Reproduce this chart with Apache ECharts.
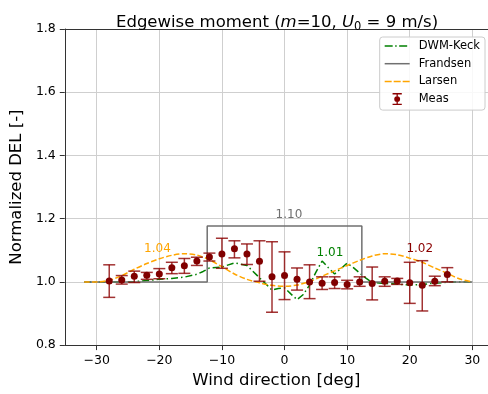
<!DOCTYPE html>
<html lang="en">
<head>
<meta charset="UTF-8">
<title>Edgewise moment</title>
<script src="https://cdn.jsdelivr.net/npm/echarts@6/dist/echarts.min.js"></script>
<style>
    html, body { margin: 0; padding: 0; background: #fff; }
    #main { width: 488px; height: 394px; }
</style>
</head>
<body>
<div id="main"></div>
<script>
    // measured DEL with error bars
    var measX  = [-28, -26, -24, -22, -20, -18, -16, -14, -12, -10, -8, -6, -4, -2, 0, 2, 4, 6, 8, 10, 12, 14, 16, 18, 20, 22, 24, 26];
    var measY  = [1.003, 1.006, 1.018, 1.021, 1.025, 1.045, 1.051, 1.066, 1.079, 1.088, 1.105, 1.088, 1.065, 1.016, 1.020, 1.008, 1.000, 0.996, 0.998, 0.992, 1.000, 0.995, 1.002, 1.003, 0.997, 0.989, 1.002, 1.023];
    var measLo = [0.951, 0.993, 0.998, 1.008, 1.010, 1.026, 1.027, 1.052, 1.066, 1.043, 1.076, 1.055, 1.002, 0.904, 0.944, 0.974, 0.947, 0.976, 0.979, 0.978, 0.986, 0.943, 0.986, 0.992, 0.932, 0.908, 0.988, 1.000];
    var measHi = [1.054, 1.020, 1.034, 1.030, 1.042, 1.062, 1.074, 1.078, 1.091, 1.138, 1.130, 1.120, 1.130, 1.127, 1.095, 1.044, 1.054, 1.016, 1.016, 1.005, 1.016, 1.047, 1.016, 1.011, 1.062, 1.067, 1.018, 1.045];

    var dwmX = [-32, -26, -24, -22, -20, -18, -16, -14, -13, -12, -10, -8, -6, -4, -2, -1, 0, 1, 2, 3, 4, 5, 6, 7, 8, 9, 10, 11, 12, 13, 14, 16, 18, 20, 22, 24, 26, 28, 30];
    var dwmY = [1.0, 1.0, 1.001, 1.004, 1.008, 1.011, 1.015, 1.024, 1.033, 1.044, 1.047, 1.060, 1.052, 1.013, 0.974, 0.979, 0.981, 0.962, 0.944, 0.960, 0.990, 1.030, 1.066, 1.045, 1.025, 1.042, 1.059, 1.045, 1.028, 1.012, 0.998, 0.995, 0.993, 0.990, 0.992, 0.996, 0.999, 1.0, 1.0];

    var frandsenX = [-32, -12.35, -12.35, 12.35, 12.35, 30];
    var frandsenY = [1.0, 1.0, 1.177, 1.177, 1.0, 1.0];

    var larsenX = [-32, -30, -28, -26, -24, -22, -20, -18, -16, -14, -12, -10, -8, -6, -4, -2, 0, 2, 4, 6, 8, 10, 12, 14, 16, 18, 20, 22, 24, 26, 28, 30];
    var larsenY = [1.0, 1.0, 1.005, 1.020, 1.040, 1.058, 1.073, 1.084, 1.089, 1.085, 1.070, 1.048, 1.025, 1.008, 0.997, 0.989, 0.986, 0.990, 1.001, 1.018, 1.035, 1.052, 1.068, 1.082, 1.089, 1.086, 1.075, 1.062, 1.044, 1.027, 1.009, 1.0];

    var xTicks = [-30, -20, -10, 0, 10, 20, 30];

    // value notes written on the plot
    var noteX = [-20.3, 0.7, 7.25, 21.6];
    var noteY = [1.103, 1.212, 1.091, 1.103];
    var noteText = ['1.04', '1.10', '1.01', '1.02'];
    var noteColor = ['#ffa500', '#707070', '#008000', '#8b0000'];

    function zip(xs, ys) {
        return xs.map(function (x, i) { return [x, ys[i]]; });
    }

    // legend glyphs (25 x 1.5 strokes, I-beam for the measurements)
    var iconDashDot = 'path://M0,0H8V1.5H0Z M10.5,0H12V1.5H10.5Z M14.5,0H22.5V1.5H14.5Z M25,0H25V1.5H25Z';
    var iconSolid = 'path://M0,0H25V1.5H0Z';
    var iconDashed = 'path://M0,0H7V1.5H0Z M9,0H16V1.5H9Z M18,0H25V1.5H18Z';
    var iconErr = 'path://M0,0H10V1.4H0Z M4.3,1.4H5.7V3.3H4.3Z M4.3,9.7H5.7V11.6H4.3Z M0,11.6H10V13H0Z M1.8,6.5A3.2,3.2 0 1,0 8.2,6.5A3.2,3.2 0 1,0 1.8,6.5Z';

    var font = 'DejaVu Sans';
    var myChart = echarts.init(document.getElementById('main'));

    var option = {
        animation: false,
        backgroundColor: '#fff',
        title: {
            left: 111,
            top: 8,
            text: '{n|Edgewise moment (}{i|m}{n|=10, }{i|U}{s|0}{n| = 9 m/s)}',
            textStyle: {
                fontWeight: 'normal',
                rich: {
                    n: {fontFamily: font, fontSize: 16.5, fontWeight: 'normal', color: '#000', lineHeight: 20},
                    i: {fontFamily: font, fontSize: 16.5, fontWeight: 'normal', color: '#000', lineHeight: 20, fontStyle: 'italic'},
                    s: {fontFamily: font, fontSize: 11.5, fontWeight: 'normal', color: '#000', lineHeight: 12, verticalAlign: 'bottom'}
                }
            }
        },
        legend: {
            orient: 'vertical',
            right: 3,
            top: 37,
            padding: [3, 5, 5, 5],
            itemWidth: 25,
            itemHeight: 12,
            itemGap: 5.7,
            backgroundColor: 'rgba(255,255,255,0.85)',
            borderColor: '#cccccc',
            borderWidth: 1,
            borderRadius: 3,
            textStyle: {fontFamily: font, fontSize: 11.5, color: '#000', padding: [0, 0, 0, 4]},
            data: [
                {name: 'DWM-Keck', icon: iconDashDot, itemStyle: {color: '#008000', borderWidth: 0}},
                {name: 'Frandsen', icon: iconSolid, itemStyle: {color: '#707070', borderWidth: 0}},
                {name: 'Larsen', icon: iconDashed, itemStyle: {color: '#ffa500', borderWidth: 0}},
                {name: 'Meas', icon: iconErr, itemStyle: {color: '#8b0000', borderWidth: 0}}
            ]
        },
        grid: {left: 62, top: 29, right: 0, bottom: 45},
        xAxis: [{
            type: 'value',
            min: -35.1,
            max: 32.5,
            name: 'Wind direction [deg]',
            nameLocation: 'middle',
            nameGap: 25,
            nameTextStyle: {fontFamily: font, fontSize: 16.5, color: '#000'},
            axisLine: {show: true, onZero: false, lineStyle: {color: '#333', width: 1}},
            axisTick: {show: true, length: 5, customValues: xTicks, lineStyle: {color: '#333'}},
            axisLabel: {
                customValues: xTicks,
                margin: 9,
                fontFamily: font, fontSize: 12.5, color: '#000',
                formatter: function (v) { return v < 0 ? '\u2212' + Math.abs(v) : String(v); }
            },
            splitLine: {show: true, lineStyle: {color: '#cfcfcf', width: 1}}
        }, {
            type: 'value',
            position: 'top',
            min: -35.1,
            max: 32.5,
            axisLine: {show: true, onZero: false, lineStyle: {color: '#333', width: 1}},
            axisTick: {show: false},
            axisLabel: {show: false},
            splitLine: {show: false}
        }],
        yAxis: {
            type: 'value',
            min: 0.8,
            max: 1.8,
            interval: 0.2,
            name: 'Normalized DEL [-]',
            nameLocation: 'middle',
            nameRotate: 90,
            nameGap: 36,
            nameTextStyle: {fontFamily: font, fontSize: 16.5, color: '#000'},
            axisLine: {show: true, onZero: false, lineStyle: {color: '#333', width: 1}},
            axisTick: {show: true, length: 5, lineStyle: {color: '#333'}},
            axisLabel: {
                margin: 9,
                fontFamily: font, fontSize: 12.5, color: '#000',
                formatter: function (v) { return v.toFixed(1); }
            },
            splitLine: {show: true, lineStyle: {color: '#cfcfcf', width: 1}}
        },
        series: [
            {
                name: 'DWM-Keck',
                type: 'line',
                symbol: 'none',
                data: zip(dwmX, dwmY),
                lineStyle: {color: '#008000', width: 1.5, type: [7, 3, 1.5, 3]},
                itemStyle: {color: '#008000'},
                z: 3
            },
            {
                name: 'Frandsen',
                type: 'line',
                symbol: 'none',
                data: zip(frandsenX, frandsenY),
                lineStyle: {color: '#707070', width: 1.5},
                itemStyle: {color: '#707070'},
                z: 3
            },
            {
                name: 'Larsen',
                type: 'line',
                symbol: 'none',
                smooth: 0.3,
                data: zip(larsenX, larsenY),
                lineStyle: {color: '#ffa500', width: 1.5, type: [5.5, 2.4]},
                itemStyle: {color: '#ffa500'},
                z: 3
            },
            {
                name: 'Meas',
                type: 'custom',
                data: measX.map(function (x, i) { return [x, measY[i], measLo[i], measHi[i]]; }),
                encode: {x: 0, y: [1, 2, 3]},
                itemStyle: {color: '#8b0000'},
                z: 5,
                renderItem: function (params, api) {
                    var x = api.value(0);
                    var top = api.coord([x, api.value(3)]);
                    var bot = api.coord([x, api.value(2)]);
                    var mid = api.coord([x, api.value(1)]);
                    var hw = 6;
                    var st = {stroke: 'rgba(139,0,0,0.8)', lineWidth: 1.5};
                    return {
                        type: 'group',
                        children: [
                            {type: 'line', shape: {x1: top[0], y1: top[1], x2: bot[0], y2: bot[1]}, style: st},
                            {type: 'line', shape: {x1: top[0] - hw, y1: top[1], x2: top[0] + hw, y2: top[1]}, style: st},
                            {type: 'line', shape: {x1: bot[0] - hw, y1: bot[1], x2: bot[0] + hw, y2: bot[1]}, style: st},
                            {type: 'circle', shape: {cx: mid[0], cy: mid[1], r: 3.5}, style: {fill: '#800000'}}
                        ]
                    };
                }
            },
            {
                name: 'notes',
                type: 'custom',
                data: noteX.map(function (x, i) { return [x, noteY[i], i]; }),
                z: 6,
                renderItem: function (params, api) {
                    var p = api.coord([api.value(0), api.value(1)]);
                    var i = api.value(2);
                    return {
                        type: 'text',
                        x: p[0],
                        y: p[1],
                        style: {
                            text: noteText[i],
                            fill: noteColor[i],
                            font: '12px "DejaVu Sans"',
                            align: 'center',
                            verticalAlign: 'middle'
                        }
                    };
                }
            }
        ]
    };

    myChart.setOption(option);
</script>
</body>
</html>
